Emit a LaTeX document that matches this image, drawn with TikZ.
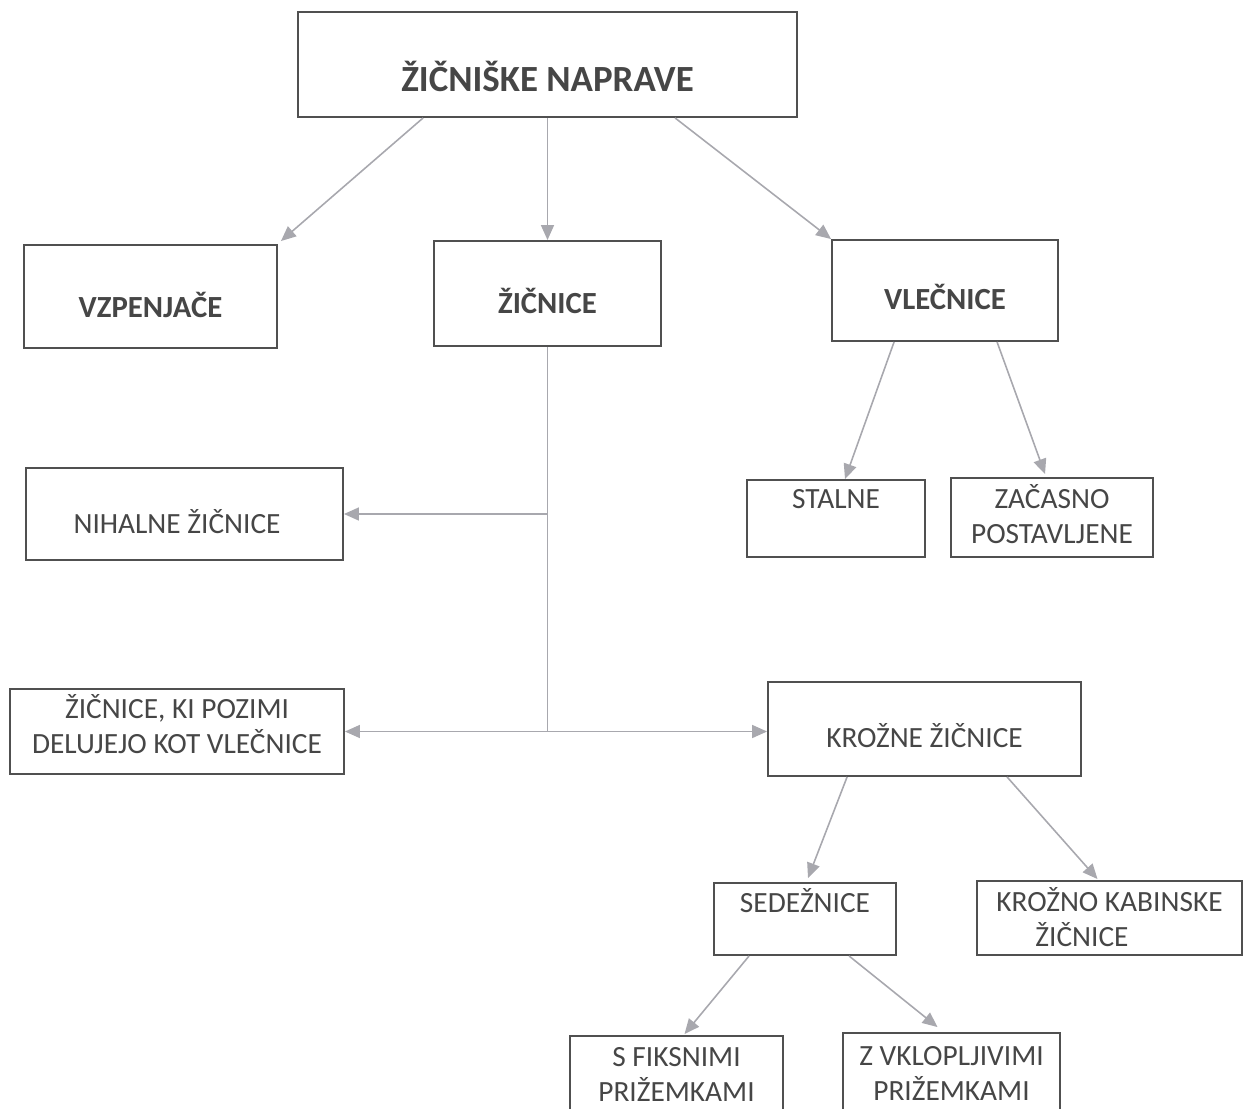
\documentclass[tikz,border=0pt]{standalone}
\usepackage{fontspec}
\setmainfont{Carlito}
\usetikzlibrary{arrows.meta, calc}

\definecolor{linegray}{RGB}{168,168,174}
\definecolor{boxgray}{RGB}{80,80,80}
\definecolor{txtgray}{RGB}{70,70,70}

\tikzset{
  box/.style={draw=boxgray, line width=1.1pt, text=txtgray, align=center, anchor=base,
    inner xsep=0pt, inner ysep=0pt, font=\fontsize{16.7}{19.8}\selectfont},
  headbox/.style={box, font=\fontsize{17.5}{21}\selectfont\bfseries},
  conn/.style={draw=linegray, line width=0.9pt},
  arr/.style={conn, ->}
}

\begin{document}
\begin{tikzpicture}[x=0.02cm, y=-0.02cm, >={Triangle[length=0.3cm, width=0.26cm]}]
  \clip (0,0) rectangle (1246,1108);

  % Top level
  \node[box, font=\fontsize{21}{25}\selectfont\bfseries, minimum width=9.98cm, text height=1.6cm, text depth=0.5cm] (naprave) at (547.5,92) {ŽIČNIŠKE NAPRAVE};

  % Second level
  \node[headbox, minimum width=5.06cm, text height=1.44cm, text depth=0.62cm] (vzpenjace) at (150.5,317) {VZPENJAČE};
  \node[headbox, minimum width=4.54cm, text height=1.44cm, text depth=0.66cm] (zicnice) at (547.5,313) {ŽIČNICE};
  \node[headbox, minimum width=4.52cm, text height=1.38cm, text depth=0.64cm] (vlecnice) at (945,309) {VLEČNICE};

  % Vlecnice
  \node[box, minimum width=3.56cm, text height=0.56cm, text depth=0.98cm] (stalne) at (836,508) {STALNE};
  \node[box, minimum width=4.04cm, text height=1.3cm, text depth=0.28cm] (zacasno) at (1052,543) {ZAČASNO\\POSTAVLJENE};

  % Zicnice
  \node[box, minimum width=6.34cm, text height=1.3cm, text depth=0.54cm] (nihalne) at (184.5,533) {NIHALNE ŽIČNICE\hspace*{0.3cm}};
  \node[box, minimum width=6.68cm, text height=1.28cm, text depth=0.42cm] (pozimi) at (177,753) {ŽIČNICE, KI POZIMI\\DELUJEJO KOT VLEČNICE};
  \node[box, minimum width=6.26cm, text height=1.3cm, text depth=0.58cm] (krozne) at (924.5,747) {KROŽNE ŽIČNICE};

  % Krozne zicnice
  \node[box, minimum width=3.64cm, text height=0.58cm, text depth=0.86cm] (sedeznice) at (805,912) {SEDEŽNICE};
  \node[box, minimum width=5.3cm, text height=1.3cm, text depth=0.18cm] (kabinske) at (1109.5,946) {KROŽNO KABINSKE\\ŽIČNICE\hspace*{1.1cm}};

  % Sedeznice
  \node[box, minimum width=4.26cm, text height=1.3cm, text depth=0.3cm] (fiksne) at (676.5,1101) {S FIKSNIMI\\PRIŽEMKAMI};
  \node[box, minimum width=4.34cm, text height=1.34cm, text depth=0.4cm] (vklopljive) at (951.5,1100) {Z VKLOPLJIVIMI\\PRIŽEMKAMI};

  % Connectors
  \draw[arr] ($(naprave.south west)+(126,0)$) -- ($(vzpenjace.north east)+(3,-3)$);
  \draw[arr] (naprave.south) -- (zicnice.north);
  \draw[arr] ($(naprave.south west)+(378,0)$) -- (vlecnice.north west);

  \draw[conn] (zicnice.south) -- (zicnice.south |- pozimi.east);
  \draw[arr] (zicnice.south |- nihalne.east) -- (nihalne.east);
  \draw[conn, <->] (pozimi.east) -- (krozne.west |- pozimi.east);

  \draw[arr] ($(vlecnice.south west)+(63,0)$) -- ($(stalne.north)+(9,0)$);
  \draw[arr] ($(vlecnice.south west)+(166,0)$) -- ($(zacasno.north)+(-7,-3)$);

  \draw[arr] ($(krozne.south west)+(80,0)$) -- ($(sedeznice.north)+(3,-4)$);
  \draw[arr] ($(krozne.south west)+(240,0)$) -- ($(kabinske.north)+(-12,-1)$);

  \draw[arr] ($(sedeznice.south west)+(36,0)$) -- ($(fiksne.north)+(8,-1)$);
  \draw[arr] ($(sedeznice.south west)+(136,0)$) -- ($(vklopljive.north)+(-14,-5)$);
\end{tikzpicture}
\end{document}
